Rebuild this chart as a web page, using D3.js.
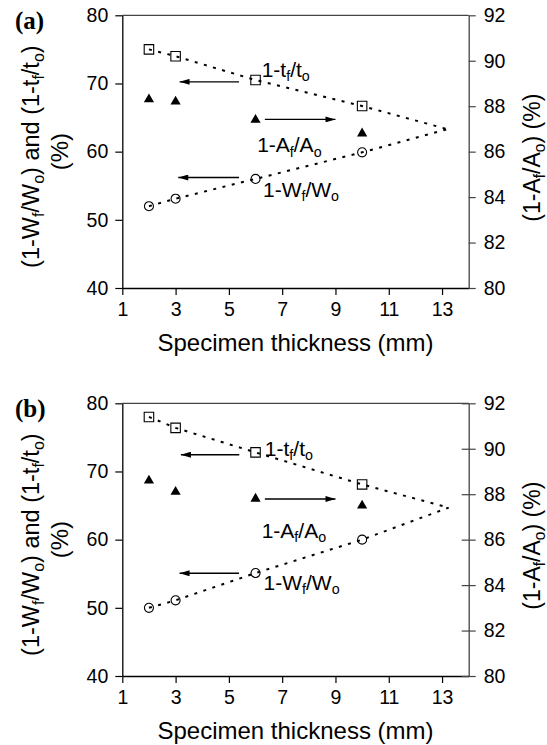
<!DOCTYPE html>
<html>
<head>
<meta charset="utf-8">
<script src="https://cdn.jsdelivr.net/npm/d3@7"></script>
<style>
    body { margin: 0; background: #fff; }
    svg text { font-family: "Liberation Sans", Arial, Helvetica, sans-serif; fill: #000; white-space: pre; }
</style>
</head>
<body>
<div id="chart"></div>
<script>

// specimen thicknesses (mm)
const thickness = [2, 3, 6, 10];

// panel (a)
const thickRatioA = [75.0, 74.0, 70.5, 66.7];   // 1-tf/to  (left axis)
const widthRatioA = [52.0, 53.1, 56.0, 59.9];   // 1-Wf/Wo  (left axis)
const areaRatioA  = [88.3, 88.2, 87.4, 86.8];   // 1-Af/Ao  (right axis)

// panel (b)
const thickRatioB = [78.0, 76.4, 72.8, 68.1];
const widthRatioB = [50.0, 51.1, 55.1, 60.0];
const areaRatioB  = [88.6, 88.1, 87.8, 87.5];

// where the two dotted trend lines meet, (a) and (b)
const meetThickness = [13.2, 13.25];
const meetValue = [63.3, 64.7];

// ticks
const xTicks = [1, 3, 5, 7, 9, 11, 13];
const leftTicks = [40, 50, 60, 70, 80];
const rightTicks = [80, 82, 84, 86, 88, 90, 92];

const W = 547, H = 745;

// write text with subscripts, parts = [[string, isSub], ...]
function richText(sel, parts, size) {
    let shift = 0;
    parts.forEach(([str, sub]) => {
        let target = sub ? size * 0.2 : 0;
        sel.append('tspan')
            .attr('dy', target - shift)
            .attr('font-size', sub ? size * 0.68 : size)
            .text(str);
        shift = target;
    });
}

class ThicknessPanel {

    constructor(svg, config) {
        this.svg = svg;
        this.config = config;
        this.initVis();
    }

    initVis() {
        let vis = this;
        let c = vis.config;

        vis.margin = {top: c.top, left: 122.3};
        vis.width = 346.4;
        vis.height = 272.7;

        vis.g = vis.svg.append('g')
            .attr('transform', `translate(${vis.margin.left}, ${vis.margin.top})`);

        vis.x = d3.scaleLinear().domain([1, 14]).range([0, vis.width]);
        vis.yLeft = d3.scaleLinear().domain([40, 80]).range([vis.height, 0]);
        vis.yRight = d3.scaleLinear().domain([80, 92]).range([vis.height, 0]);

        // top frame line
        vis.g.append('line')
            .attr('x1', 0).attr('x2', vis.width)
            .attr('y1', 0).attr('y2', 0)
            .attr('stroke', '#444').attr('stroke-width', 1.3);

        // axes
        let xAxis = d3.axisBottom(vis.x).tickValues(xTicks).tickSize(7).tickSizeOuter(0).tickPadding(7);
        let leftAxis = d3.axisLeft(vis.yLeft).tickValues(leftTicks).tickSize(7).tickSizeOuter(0).tickPadding(7);
        let rightAxis = d3.axisRight(vis.yRight).tickValues(rightTicks).tickSize(7).tickSizeOuter(0).tickPadding(8);

        let gx = vis.g.append('g').attr('transform', `translate(0, ${vis.height})`).call(xAxis);
        let gl = vis.g.append('g').call(leftAxis);
        let gr = vis.g.append('g').attr('transform', `translate(${vis.width}, 0)`).call(rightAxis);

        [gx, gl, gr].forEach(a => {
            a.selectAll('text').attr('font-size', 19.5).attr('font-family', null).attr('fill', '#000');
            a.select('.domain').attr('stroke-width', 1.3);
            a.selectAll('.tick line').attr('stroke-width', 1.2);
        });
        gx.select('.domain').attr('stroke', '#000');
        gl.select('.domain').attr('stroke', '#000');
        gr.select('.domain').attr('stroke', '#444');
        gr.selectAll('.tick line').attr('stroke', '#444');
        if (c.crossTicks) gr.selectAll('.tick line').attr('x1', -7);

        // axis titles
        vis.svg.append('text')
            .attr('x', vis.margin.left + vis.width / 2)
            .attr('y', vis.margin.top + vis.height + 63)
            .attr('text-anchor', 'middle')
            .attr('font-size', 24)
            .text('Specimen thickness (mm)');

        let midY = vis.margin.top + vis.height / 2;
        let lt = vis.svg.append('text')
            .attr('transform', `translate(39, ${midY + 5}) rotate(-90)`)
            .attr('text-anchor', 'middle');
        richText(lt, [['(1-W', 0], ['f', 1], ['/W', 0], ['o', 1], [') and (1-t', 0], ['f', 1], ['/t', 0], ['o', 1], [')', 0]], 23.5);

        vis.svg.append('text')
            .attr('transform', `translate(68, ${midY}) rotate(-90)`)
            .attr('text-anchor', 'middle')
            .attr('font-size', 24)
            .text('(%)');

        let rt = vis.svg.append('text')
            .attr('transform', `translate(540, ${midY + 6}) rotate(-90)`)
            .attr('text-anchor', 'middle');
        richText(rt, [['(1-A', 0], ['f', 1], ['/A', 0], ['o', 1], [') (%)', 0]], 23);

        // panel letter
        vis.svg.append('text')
            .attr('x', 15)
            .attr('y', vis.margin.top + 14)
            .attr('font-size', 25)
            .attr('font-weight', 'bold')
            .style('font-family', '"Liberation Serif", "Times New Roman", serif')
            .text(c.letter);

        // arrow head
        vis.svg.append('defs').append('marker')
            .attr('id', 'head' + c.letter.replace(/\W/g, ''))
            .attr('viewBox', '0 0 10 6')
            .attr('refX', 10).attr('refY', 3)
            .attr('markerWidth', 12).attr('markerHeight', 6)
            .attr('markerUnits', 'userSpaceOnUse')
            .attr('orient', 'auto')
            .append('path')
            .attr('d', 'M0,0 L10,3 L0,6 Z')
            .attr('fill', '#000');

        vis.updateVis();
    }

    updateVis() {
        let vis = this;
        let c = vis.config;

        let line = d3.line()
            .x(d => vis.x(d[0]))
            .y(d => vis.yLeft(d[1]));

        // dotted trend lines, ending where they meet
        [c.thick, c.width].forEach(series => {
            let pts = thickness.map((t, i) => [t, series[i]]);
            pts.push([c.meetX, c.meetY]);
            vis.g.append('path')
                .datum(pts)
                .attr('d', line)
                .attr('fill', 'none')
                .attr('stroke', '#000')
                .attr('stroke-width', 2)
                .attr('stroke-dasharray', '3,6.5');
        });

        // markers
        let sym = d3.symbol();
        vis.g.selectAll('.sq').data(thickness).enter().append('path')
            .attr('class', 'sq')
            .attr('transform', (d, i) => `translate(${vis.x(d)}, ${vis.yLeft(c.thick[i])})`)
            .attr('d', sym.type(d3.symbolSquare).size(90)())
            .attr('fill', 'none').attr('stroke', '#000').attr('stroke-width', 1.1);

        vis.g.selectAll('.ci').data(thickness).enter().append('path')
            .attr('class', 'ci')
            .attr('transform', (d, i) => `translate(${vis.x(d)}, ${vis.yLeft(c.width[i])})`)
            .attr('d', sym.type(d3.symbolCircle).size(64)())
            .attr('fill', 'none').attr('stroke', '#000').attr('stroke-width', 1.1);

        vis.g.selectAll('.tr').data(thickness).enter().append('path')
            .attr('class', 'tr')
            .attr('transform', (d, i) => `translate(${vis.x(d)}, ${vis.yRight(c.area[i])})`)
            .attr('d', sym.type(d3.symbolTriangle).size(45)())
            .attr('fill', '#000');

        // arrows pointing to the axis each series belongs to
        let headId = 'head' + c.letter.replace(/\W/g, '');
        c.arrows.forEach(a => {
            let yS = a.right ? vis.yRight : vis.yLeft;
            vis.g.append('line')
                .attr('x1', vis.x(a.from)).attr('x2', vis.x(a.to))
                .attr('y1', yS(a.y)).attr('y2', yS(a.y))
                .attr('stroke', '#000').attr('stroke-width', 1.4)
                .attr('marker-end', `url(#${headId})`);
        });

        // series labels
        c.labels.forEach(l => {
            let t = vis.g.append('text')
                .attr('x', vis.x(l.x))
                .attr('y', vis.yLeft(l.y));
            richText(t, l.parts, 21);
        });
    }
}

const svg = d3.select('#chart').append('svg')
    .attr('width', W)
    .attr('height', H);

const tfParts = [['1-t', 0], ['f', 1], ['/t', 0], ['o', 1]];
const afParts = [['1-A', 0], ['f', 1], ['/A', 0], ['o', 1]];
const wfParts = [['1-W', 0], ['f', 1], ['/W', 0], ['o', 1]];

new ThicknessPanel(svg, {
    letter: '(a)', top: 15.3, crossTicks: false,
    thick: thickRatioA, width: widthRatioA, area: areaRatioA,
    meetX: meetThickness[0], meetY: meetValue[0],
    arrows: [
        {from: 5.38, to: 3.15, y: 70.24},
        {from: 6.35, to: 9.0, y: 87.42, right: true},
        {from: 5.38, to: 3.1, y: 56.2}
    ],
    labels: [
        {x: 6.23, y: 71.0, parts: tfParts},
        {x: 6.06, y: 59.9, parts: afParts},
        {x: 6.28, y: 53.35, parts: wfParts}
    ]
});

new ThicknessPanel(svg, {
    letter: '(b)', top: 403.3, crossTicks: true,
    thick: thickRatioB, width: widthRatioB, area: areaRatioB,
    meetX: meetThickness[1], meetY: meetValue[1],
    arrows: [
        {from: 5.39, to: 3.2, y: 72.46},
        {from: 6.35, to: 9.0, y: 87.79, right: true},
        {from: 5.38, to: 3.15, y: 55.07}
    ],
    labels: [
        {x: 6.35, y: 72.27, parts: tfParts},
        {x: 6.23, y: 60.25, parts: afParts},
        {x: 6.3, y: 52.6, parts: wfParts}
    ]
});

</script>
</body>
</html>
